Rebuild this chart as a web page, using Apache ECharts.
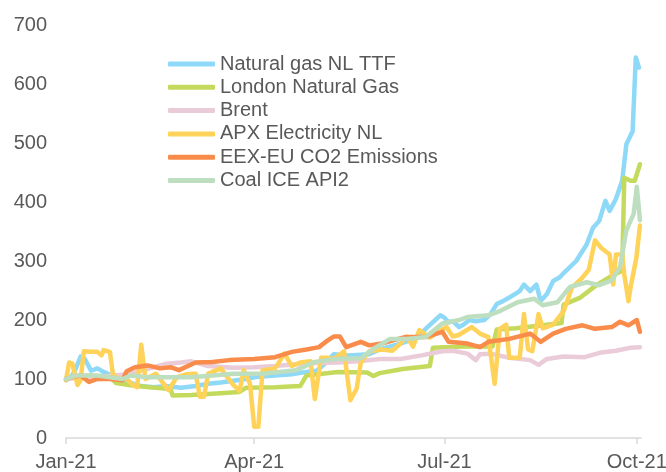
<!DOCTYPE html>
<html>
<head>
<meta charset="utf-8">
<script src="https://cdn.jsdelivr.net/npm/echarts@6/dist/echarts.min.js"></script>
<style>
  html, body { margin: 0; padding: 0; background: #fff; }
  #chart { width: 666px; height: 472px; }
</style>
</head>
<body>
<div id="chart"></div>
<script>
// x = days since 1 Jan 2021, y = index (start = 100)
const xTickDays = [0, 90, 181, 273];
const xTickLabels = ['Jan-21', 'Apr-21', 'Jul-21', 'Oct-21'];

const seriesNames = ['Natural gas NL TTF', 'London Natural Gas', 'Brent', 'APX Electricity NL', 'EEX-EU CO2 Emissions', 'Coal ICE API2'];
const seriesColors = ['#8ED8F8', '#C4DA5C', '#EACCD9', '#FFD25A', '#FA8C4B', '#BEDEC0'];

const ttfData = [
  [0, 98], [2, 102], [4, 112], [7, 138], [9, 134], [12, 114], [15, 118], [18, 112], [22, 106], [26, 98],
  [30, 94], [36, 88], [42, 86], [48, 88], [55, 85], [62, 88], [68, 92], [74, 94], [80, 97], [86, 100],
  [92, 104], [100, 106], [108, 108], [113, 111], [120, 114], [125, 130], [128, 142], [135, 140], [145, 142],
  [150, 150], [160, 160], [168, 170], [172, 185], [176, 198], [179, 208], [181, 204], [183, 196], [185, 198],
  [188, 188], [190, 192], [193, 200], [196, 198], [200, 200], [203, 210], [206, 227], [209, 232], [212, 238],
  [217, 249], [219, 260], [222, 249], [225, 260], [227, 232], [230, 244], [233, 266], [236, 272], [239, 283],
  [244, 300], [249, 328], [252, 356], [255, 368], [258, 402], [260, 385], [263, 405], [266, 436], [268, 498],
  [271, 520], [272.5, 645], [274, 628]
];
const londonGasData = [
  [0, 100], [5, 104], [12, 106], [22, 100], [24, 93], [30, 90], [40, 86], [50, 83], [51, 72], [60, 73],
  [70, 75], [83, 78], [86, 85], [100, 86], [112, 88], [115, 106], [130, 112], [144, 111], [147, 105],
  [150, 110], [161, 117], [174, 122], [175.5, 153], [190, 155], [204, 155], [206, 184], [215, 186], [225, 190],
  [237, 195], [238, 226], [246, 238], [254, 260], [262, 277], [266, 283], [267, 441], [270, 436], [272, 436],
  [274.5, 464]
];
const brentData = [
  [0, 100], [10, 104], [20, 105], [30, 108], [40, 118], [48, 126], [55, 128], [60, 130], [68, 122], [80, 119],
  [90, 120], [100, 122], [110, 125], [120, 127], [130, 128], [140, 130], [150, 134], [160, 134], [170, 140],
  [180, 147], [185, 148], [192, 143], [196, 132], [198, 142], [203, 143], [212, 136], [222, 132], [226, 124],
  [230, 134], [238, 138], [248, 137], [256, 145], [263, 148], [270, 153], [274.5, 154]
];
const apxData = [
  [0, 98], [1.5, 128], [3, 126], [5.5, 90], [7, 98], [8.5, 147], [12, 146], [15, 146], [17, 140], [18, 149],
  [21, 146], [22.5, 106], [26, 100], [29, 100], [32, 90], [34, 86], [36, 158], [38, 100], [43, 109], [49, 81],
  [53, 103], [58, 108], [62, 109], [64, 70], [66, 70], [68, 109], [74, 118], [80, 90], [83, 80], [85, 115],
  [88, 92], [90, 19], [92, 19], [94, 115], [100, 118], [104.5, 143], [108, 122], [112, 128], [117, 130],
  [119, 66], [122, 136], [125, 136], [128, 134], [133, 147], [136, 64], [139, 84], [141, 128], [145, 147],
  [151, 150], [156, 148], [160, 160], [163, 172], [166, 155], [169, 183], [174, 170], [178, 180], [182, 188],
  [185, 172], [188, 175], [194, 188], [198, 177], [202, 171], [205, 92], [207.5, 185], [210.5, 192], [212, 136],
  [217, 136], [219, 210], [221, 150], [223, 147], [226, 210], [228, 186], [233, 192], [238, 215], [242, 255],
  [247, 272], [250, 285], [253, 335], [256, 322], [260, 311], [261.7, 260], [263, 311], [266, 311], [267, 277],
  [269, 232], [270, 255], [272.8, 306], [274.5, 360]
];
const co2Data = [
  [0, 100], [4, 104], [7, 106], [11, 95], [15, 100], [21, 100], [27, 98], [29, 113], [33, 120], [39, 123],
  [45, 118], [50, 120], [54, 115], [62, 128], [70, 129], [78, 132], [90, 134], [100, 137], [108, 146],
  [115, 150], [121, 154], [125, 165], [128, 172], [131, 172], [134, 154], [141, 163], [145, 157], [151, 160],
  [156, 165], [162, 171], [172, 171], [180, 180], [183, 163], [192, 160], [198, 154], [202, 163], [212, 168],
  [222, 177], [227, 163], [233, 177], [239, 185], [247, 191], [253, 185], [261, 188], [265, 197], [269, 191],
  [273, 200], [274.5, 180]
];
const coalData = [
  [0, 100], [5, 106], [15, 106], [27, 100], [31, 106], [39, 103], [60, 103], [80, 109], [94, 109], [110, 115],
  [119, 129], [129, 134], [141, 135], [147, 151], [155, 168], [163, 168], [172, 171], [180, 194], [188, 200],
  [192, 205], [202, 208], [208, 216], [216, 230], [224, 236], [228, 225], [235, 230], [241, 256], [249, 264],
  [255, 259], [261, 267], [265, 290], [268, 352], [271.5, 380], [273, 426], [274.5, 369]
];

const allData = [ttfData, londonGasData, brentData, apxData, co2Data, coalData];

const textColor = '#595959';
const fontFamily = '"Liberation Sans", Arial, sans-serif';

const chart = echarts.init(document.getElementById('chart'), null, { renderer: 'canvas' });

const option = {
  animation: false,
  backgroundColor: '#fff',
  textStyle: { fontFamily: fontFamily },
  grid: { left: 66, right: 25, top: 25, bottom: 34, outerBoundsMode: 'none' },
  legend: {
    orient: 'vertical',
    left: 168,
    top: 54,
    padding: 0,
    itemGap: 3.3,
    itemWidth: 47,
    itemHeight: 5,
    icon: 'roundRect',
    textStyle: { color: textColor, fontSize: 20, lineHeight: 20, fontFamily: fontFamily },
    data: seriesNames
  },
  xAxis: {
    type: 'value',
    min: 0,
    max: 275,
    axisLine: { show: true, lineStyle: { color: '#D9D9D9', width: 1.5 } },
    axisTick: { show: true, length: 6, customValues: xTickDays, lineStyle: { color: '#D9D9D9', width: 1.5 } },
    axisLabel: {
      customValues: xTickDays,
      color: textColor,
      fontSize: 20,
      margin: 14,
      formatter: v => xTickLabels[xTickDays.indexOf(v)] || ''
    },
    splitLine: { show: false }
  },
  yAxis: {
    type: 'value',
    min: 0,
    max: 700,
    interval: 100,
    axisLine: { show: false },
    axisTick: { show: false },
    axisLabel: { color: textColor, fontSize: 20, margin: 19 },
    splitLine: { show: false }
  },
  series: seriesNames.map((name, i) => ({
    name: name,
    type: 'line',
    data: allData[i],
    showSymbol: false,
    symbol: 'none',
    color: seriesColors[i],
    itemStyle: { color: seriesColors[i] },
    lineStyle: { color: seriesColors[i], width: 4.5, cap: 'round', join: 'round' }
  }))
};

chart.setOption(option);
</script>
</body>
</html>
